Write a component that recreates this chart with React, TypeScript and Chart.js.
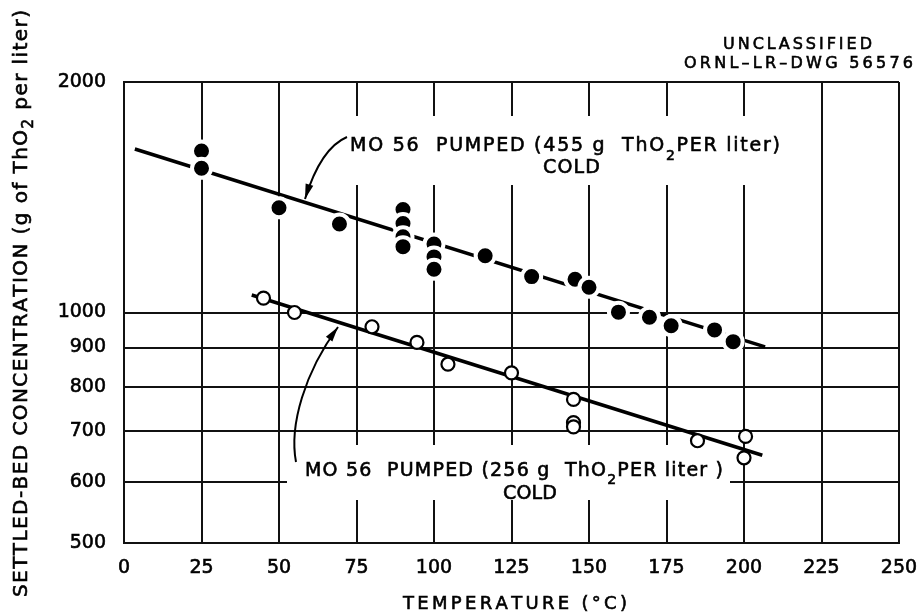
import React, { useEffect, useRef } from 'react';
import { Chart, registerables } from 'chart.js';

Chart.register(...registerables);

// ---- data ----
const xTicks = [0, 25, 50, 75, 100, 125, 150, 175, 200, 225, 250];
const yTicks = [500, 600, 700, 800, 900, 1000, 2000];

// MO 56 pumped, 455 g ThO2 per liter (filled circles)
const filledX = [25, 25, 50, 69.5, 90, 90, 90, 90, 100, 100, 100, 116.5, 131.5, 145.5, 150, 159.5, 169.5, 176.5, 190.5, 196.5];
const filledY = [1625, 1543, 1370, 1305, 1363, 1307, 1256, 1219, 1229, 1182, 1139, 1186, 1114, 1105, 1079, 1001, 986, 961, 949, 916];

// MO 56 pumped, 256 g ThO2 per liter (open circles)
const openX = [45, 55, 80, 94.5, 104.5, 125, 145, 145, 145, 185, 200.5, 200];
const openY = [1044, 1000, 958, 914, 856, 834, 770, 718, 709, 680, 689, 646];

// fitted lines
const fit455X = [3.5, 206.8];
const fit455Y = [1635, 902];
const fit256X = [41.2, 205.9];
const fit256Y = [1054, 651];

const xTitle = 'TEMPERATURE (°C)';
const yTitleA = 'SETTLED-BED CONCENTRATION (g of ThO';
const yTitleB = ' per liter)';
const label455A = 'MO 56  PUMPED (455 g  ThO';
const label455B = 'PER liter)';
const label256A = 'MO 56  PUMPED (256 g  ThO';
const label256B = 'PER liter )';
const coldLabel = 'COLD';
const stamp1 = 'UNCLASSIFIED';
const stamp2 = 'ORNL–LR–DWG 56576';

const FONT = '"DejaVu Sans", sans-serif';

type Part = { t: string; sub?: boolean };

function drawFitted(
  ctx: CanvasRenderingContext2D,
  parts: Part[],
  x0: number,
  yCenter: number,
  width: number,
  size: number,
  subSize: number,
  subDrop: number
) {
  const fMain = `${size}px ${FONT}`;
  const fSub = `${subSize}px ${FONT}`;
  let natural = 0;
  let n = 0;
  for (const p of parts) {
    ctx.font = p.sub ? fSub : fMain;
    for (const ch of p.t) {
      natural += ctx.measureText(ch).width;
      n++;
    }
  }
  const ls = n > 1 ? (width - natural) / (n - 1) : 0;
  const baseline = yCenter + size * 0.365;
  let x = x0;
  ctx.textAlign = 'left';
  ctx.textBaseline = 'alphabetic';
  ctx.fillStyle = '#000';
  ctx.strokeStyle = '#000';
  ctx.lineWidth = 0.6;
  for (const p of parts) {
    ctx.font = p.sub ? fSub : fMain;
    for (const ch of p.t) {
      const yy = p.sub ? baseline + subDrop : baseline;
      ctx.fillText(ch, x, yy);
      ctx.strokeText(ch, x, yy);
      x += ctx.measureText(ch).width + ls;
    }
  }
}

function arrow(
  ctx: CanvasRenderingContext2D,
  p0: number[],
  c1: number[],
  c2: number[],
  p1: number[]
) {
  ctx.save();
  ctx.strokeStyle = '#000';
  ctx.fillStyle = '#000';
  ctx.lineWidth = 2;
  ctx.beginPath();
  ctx.moveTo(p0[0], p0[1]);
  ctx.bezierCurveTo(c1[0], c1[1], c2[0], c2[1], p1[0], p1[1]);
  ctx.stroke();
  const dx = p1[0] - c2[0];
  const dy = p1[1] - c2[1];
  const len = Math.hypot(dx, dy);
  const ux = dx / len;
  const uy = dy / len;
  const L = 15;
  const W = 4;
  const bx = p1[0] - ux * L;
  const by = p1[1] - uy * L;
  ctx.beginPath();
  ctx.moveTo(p1[0], p1[1]);
  ctx.lineTo(bx - uy * W, by + ux * W);
  ctx.lineTo(bx + uy * W, by - ux * W);
  ctx.closePath();
  ctx.fill();
  ctx.restore();
}

const annotations = {
  id: 'annotations',
  beforeDatasetsDraw(chart: any) {
    const ctx = chart.ctx as CanvasRenderingContext2D;
    ctx.save();
    ctx.fillStyle = '#fff';
    ctx.fillRect(343, 116, 449, 69);
    ctx.fillRect(287, 445, 443, 55);
    ctx.restore();
  },
  afterDatasetsDraw(chart: any) {
    const ctx = chart.ctx as CanvasRenderingContext2D;
    ctx.save();
    // curve labels
    drawFitted(ctx, [{ t: label455A }, { t: '2', sub: true }, { t: label455B }], 350, 144, 430, 19, 14, 9);
    drawFitted(ctx, [{ t: coldLabel }], 543, 166.5, 57, 19, 14, 0);
    drawFitted(ctx, [{ t: label256A }, { t: '2', sub: true }, { t: label256B }], 305, 469, 418, 19, 14, 8);
    drawFitted(ctx, [{ t: coldLabel }], 503, 492.5, 54, 19, 14, 0);
    // arrows
    arrow(ctx, [347, 137], [328, 145], [314, 170], [305, 199]);
    arrow(ctx, [296, 462], [289, 425], [305, 372], [338, 327]);
    // stamp
    drawFitted(ctx, [{ t: stamp1 }], 723, 42.7, 149, 16, 12, 0);
    drawFitted(ctx, [{ t: stamp2 }], 684, 62.3, 229, 16, 12, 0);
    // x title
    drawFitted(ctx, [{ t: xTitle }], 403, 602, 224, 18, 14, 0);
    // y title
    ctx.translate(20, 303.5);
    ctx.rotate(-Math.PI / 2);
    drawFitted(ctx, [{ t: yTitleA }, { t: '2', sub: true }, { t: yTitleB }], -293.5, 0, 587, 20, 15, 6);
    ctx.restore();
  },
};

export default function App() {
  const ref = useRef<HTMLCanvasElement | null>(null);
  useEffect(() => {
    document.body.style.margin = '0';
    const canvas = ref.current;
    if (!canvas) return;
    const toPts = (xs: number[], ys: number[]) => xs.map((x, i) => ({ x, y: ys[i] }));
    const chart = new Chart(canvas, {
      type: 'scatter',
      data: {
        datasets: [
          {
            label: '455 g ThO2 per liter',
            data: toPts(filledX, filledY),
            showLine: false,
            pointRadius: 9.5,
            pointHoverRadius: 9.5,
            pointBackgroundColor: '#000',
            pointBorderColor: '#fff',
            pointBorderWidth: 4,
            order: 0,
          },
          {
            label: '256 g ThO2 per liter',
            data: toPts(openX, openY),
            showLine: false,
            pointRadius: 6.5,
            pointHoverRadius: 6.5,
            pointBackgroundColor: '#fff',
            pointBorderColor: '#000',
            pointBorderWidth: 2.2,
            order: 0,
          },
          {
            label: 'fit 455',
            data: toPts(fit455X, fit455Y),
            showLine: true,
            borderColor: '#000',
            borderWidth: 3.5,
            pointRadius: 0,
            order: 2,
          },
          {
            label: 'fit 256',
            data: toPts(fit256X, fit256Y),
            showLine: true,
            borderColor: '#000',
            borderWidth: 3.5,
            pointRadius: 0,
            order: 2,
          },
        ],
      },
      options: {
        animation: false,
        responsive: false,
        devicePixelRatio: 1,
        layout: { padding: { top: 82, right: 21, left: 0, bottom: 0 } },
        plugins: { legend: { display: false }, tooltip: { enabled: false } },
        scales: {
          x: {
            type: 'linear',
            min: 0,
            max: 250,
            afterFit: (s: any) => {
              s.height = 70;
              s.paddingLeft = 0;
              s.paddingRight = 0;
            },
            afterBuildTicks: (s: any) => {
              s.ticks = xTicks.map((v) => ({ value: v }));
            },
            ticks: {
              autoSkip: false,
              maxRotation: 0,
              padding: 14,
              color: '#000',
              textStrokeColor: '#000',
              textStrokeWidth: 0.6,
              font: { family: FONT, size: 19 },
              callback: (v: any) => String(v),
            },
            grid: { color: '#111', lineWidth: 2, drawTicks: false },
            border: { display: true, color: '#111', width: 2 },
          },
          y: {
            type: 'logarithmic',
            min: 500,
            max: 2000,
            afterFit: (s: any) => {
              s.width = 124;
              s.paddingTop = 0;
              s.paddingBottom = 0;
            },
            afterBuildTicks: (s: any) => {
              s.ticks = yTicks.map((v) => ({ value: v }));
            },
            ticks: {
              autoSkip: false,
              padding: 18,
              color: '#000',
              textStrokeColor: '#000',
              textStrokeWidth: 0.6,
              font: { family: FONT, size: 19 },
              callback: (v: any) => String(v),
            },
            grid: { color: '#111', lineWidth: 2, drawTicks: false },
            border: { display: true, color: '#111', width: 2 },
          },
        },
      },
      plugins: [annotations],
    });
    return () => chart.destroy();
  }, []);
  return (
    <div style={{ position: 'absolute', left: 0, top: 0, width: 920, height: 613, background: '#fff' }}>
      <canvas ref={ref} width={920} height={613} style={{ display: 'block' }} />
    </div>
  );
}
